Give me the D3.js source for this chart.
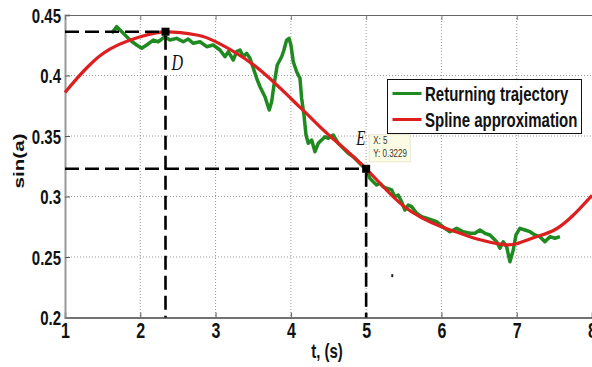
<!DOCTYPE html>
<html>
<head>
<meta charset="utf-8">
<script src="https://cdn.jsdelivr.net/npm/d3@7"></script>
<style>
  html, body { margin: 0; padding: 0; background: #fff; }
  svg { display: block; }
  text { font-family: "Liberation Sans", Arial, sans-serif; }
</style>
</head>
<body>
<svg id="chart" width="592" height="367"></svg>
<script>
// Measured trajectory (time in s, sin(a))
const trajT = [1.620,1.687,1.774,1.863,1.952,2.019,2.085,2.173,2.239,2.328,2.394,2.483,2.571,2.637,2.704,2.793,2.882,2.969,3.058,3.125,3.169,3.235,3.280,3.324,3.368,3.413,3.457,3.501,3.546,3.590,3.656,3.713,3.745,3.776,3.819,3.878,3.908,3.944,3.975,4.001,4.032,4.077,4.121,4.143,4.174,4.201,4.231,4.276,4.320,4.364,4.409,4.453,4.497,4.563,4.629,4.696,4.762,4.829,4.895,4.961,5.007,5.050,5.094,5.139,5.183,5.227,5.272,5.339,5.382,5.426,5.471,5.515,5.559,5.604,5.671,5.737,5.803,5.870,5.936,6.046,6.113,6.202,6.290,6.378,6.445,6.511,6.578,6.644,6.688,6.733,6.777,6.821,6.866,6.910,6.954,6.990,7.042,7.109,7.175,7.242,7.308,7.374,7.441,7.507,7.574];
const trajV = [0.4349,0.4404,0.4349,0.4293,0.4252,0.4225,0.4252,0.4293,0.4279,0.4321,0.4293,0.4307,0.4279,0.4302,0.4266,0.4279,0.4238,0.4252,0.4211,0.4155,0.4197,0.4128,0.4197,0.4211,0.4155,0.4183,0.4142,0.4060,0.3977,0.3907,0.3825,0.3715,0.3783,0.3921,0.4087,0.4155,0.4211,0.4293,0.4307,0.4252,0.4114,0.4031,0.3977,0.3812,0.3674,0.3508,0.3440,0.3467,0.3370,0.3440,0.3467,0.3494,0.3481,0.3508,0.3440,0.3398,0.3357,0.3329,0.3288,0.3246,0.3219,0.3150,0.3122,0.3095,0.3109,0.3081,0.3068,0.3054,0.2998,0.3012,0.2957,0.2888,0.2930,0.2916,0.2861,0.2833,0.2820,0.2806,0.2792,0.2737,0.2709,0.2737,0.2709,0.2696,0.2696,0.2723,0.2696,0.2682,0.2655,0.2626,0.2572,0.2626,0.2585,0.2461,0.2558,0.2682,0.2737,0.2723,0.2709,0.2682,0.2668,0.2626,0.2668,0.2655,0.2668];

// Spline approximation knots
const splineT = [1, 1.5, 2, 2.35, 2.75, 3, 3.5, 4, 4.25, 4.5, 5, 5.5, 6, 6.25, 6.5, 6.8, 7, 7.25, 7.5, 7.75, 8];
const splineV = [0.386, 0.418, 0.432, 0.436, 0.4335, 0.428, 0.409, 0.381, 0.366, 0.351, 0.3229, 0.292, 0.275, 0.2696, 0.2645, 0.2605, 0.261, 0.2665, 0.2723, 0.2845, 0.301];

// Highlighted points D and E
const pointNames = ["D", "E"];
const pointT = [2.335, 5];
const pointV = [0.4362, 0.3229];

// Small stray dot under the curve
const dotT = [5.347];
const dotV = [0.2346];

// Axis ticks
const xTicks = [1, 2, 3, 4, 5, 6, 7, 8];
const yTicks = [0.2, 0.25, 0.3, 0.35, 0.4, 0.45];
const yTickLabels = ["0.2", "0.25", "0.3", "0.35", "0.4", "0.45"];

const legendNames = ["Returning trajectory", "Spline approximation"];
const GREEN = "#1f8a1f", RED = "#dd1f1f";
const STRETCH = 1.38;

const svg = d3.select("#chart");
const x = d3.scaleLinear().domain([1, 8]).range([65, 592]);
const y = d3.scaleLinear().domain([0.2, 0.45]).range([317.5, 15]);

// dotted grid
const grid = svg.append("g");
grid.selectAll("line.vg").data(xTicks.slice(1, -1)).join("line")
  .attr("x1", d => x(d)).attr("x2", d => x(d))
  .attr("y1", y(0.45)).attr("y2", y(0.2))
  .attr("stroke", "#9a9a9a").attr("stroke-width", 1).attr("stroke-dasharray", "1,2");
grid.selectAll("line.hg").data(yTicks.slice(1, -1)).join("line")
  .attr("x1", x(1)).attr("x2", x(8))
  .attr("y1", d => y(d)).attr("y2", d => y(d))
  .attr("stroke", "#9a9a9a").attr("stroke-width", 1).attr("stroke-dasharray", "1,2");

// axes with inward ticks
const xAxis = svg.append("g").attr("transform", `translate(0,${y(0.2)})`)
  .call(d3.axisBottom(x).tickValues(xTicks).tickSize(-5).tickFormat(d3.format("d")));
const yAxis = svg.append("g").attr("transform", `translate(${x(1)},0)`)
  .call(d3.axisLeft(y).tickValues(yTicks).tickSize(-5).tickFormat((d, i) => yTickLabels[i]));
svg.append("g").attr("transform", `translate(0,${y(0.45)})`)
  .call(d3.axisTop(x).tickValues(xTicks).tickSize(-5).tickFormat(""))
  .call(g => g.select(".domain").attr("stroke", "#666"))
  .call(g => g.selectAll(".tick line").attr("stroke", "#777"));

xAxis.select(".domain").attr("stroke", "#444").attr("stroke-width", 1.5);
xAxis.selectAll(".tick line").attr("stroke", "#555");
xAxis.selectAll(".tick text")
  .attr("y", null).attr("dy", null)
  .attr("transform", `translate(0,20) scale(1,${STRETCH})`)
  .attr("fill", "#111").style("font-size", "16px").style("font-weight", "bold")
  .style("font-family", "'Liberation Sans', Arial, sans-serif");
yAxis.select(".domain").attr("stroke", "#999").attr("stroke-width", 2);
yAxis.selectAll(".tick line").attr("stroke", "#555");
yAxis.selectAll(".tick text")
  .attr("x", null).attr("dy", null)
  .attr("transform", `translate(-4,7) scale(1,${STRETCH})`)
  .attr("fill", "#111").style("font-size", "15px").style("font-weight", "bold")
  .style("font-family", "'Liberation Sans', Arial, sans-serif");

// axis titles
svg.append("text")
  .attr("transform", `translate(327,358) scale(1,${STRETCH})`)
  .attr("text-anchor", "middle").style("font-size", "15px").style("font-weight", "bold")
  .attr("fill", "#111").text("t, (s)");
svg.append("text")
  .attr("transform", `translate(24,161) rotate(-90) scale(${STRETCH},1)`)
  .attr("text-anchor", "middle").style("font-size", "15px").style("font-weight", "bold")
  .attr("fill", "#111").text("sin(a)");

// curves
const line = d3.line().x(d => x(d[0])).y(d => y(d[1]));
svg.append("path")
  .datum(trajT.map((t, i) => [t, trajV[i]]))
  .attr("d", line.curve(d3.curveLinear))
  .attr("fill", "none").attr("stroke", GREEN).attr("stroke-width", 3.5)
  .attr("stroke-linejoin", "round");
svg.append("path")
  .datum(splineT.map((t, i) => [t, splineV[i]]))
  .attr("d", d3.line().x(d => x(d[0])).y(d => y(d[1])).curve(d3.curveNatural))
  .attr("fill", "none").attr("stroke", RED).attr("stroke-width", 3.2);

// dashed guide lines to the highlighted points
const guides = svg.append("g").attr("stroke", "#000").attr("stroke-width", 2.6)
  .attr("stroke-dasharray", "14,6").attr("fill", "none");
pointT.forEach((t, i) => {
  guides.append("line").attr("x1", x(1)).attr("x2", x(t))
    .attr("y1", y(pointV[i])).attr("y2", y(pointV[i]));
  guides.append("line").attr("x1", x(t)).attr("x2", x(t))
    .attr("y1", y(pointV[i]) + 4).attr("y2", y(0.2));
});
svg.selectAll("rect.pt").data(pointT).join("rect")
  .attr("x", d => x(d) - 4).attr("y", (d, i) => y(pointV[i]) - 4)
  .attr("width", 8).attr("height", 8).attr("fill", "#000");

svg.selectAll("rect.dot").data(dotT).join("rect")
  .attr("x", d => x(d) - 1).attr("y", (d, i) => y(dotV[i]) - 1.5)
  .attr("width", 2).attr("height", 3).attr("fill", "#222");

// point letters
svg.append("text")
  .attr("transform", `translate(${x(pointT[0]) + 6},${y(pointV[0]) + 38}) scale(1,${STRETCH})`)
  .style("font-family", "'Liberation Serif', 'Times New Roman', serif")
  .style("font-style", "italic").style("font-size", "16px").attr("fill", "#111")
  .text(pointNames[0]);
svg.append("text")
  .attr("transform", `translate(${x(pointT[1]) - 10},${y(pointV[1]) - 24}) scale(1,${STRETCH})`)
  .style("font-family", "'Liberation Serif', 'Times New Roman', serif")
  .style("font-style", "italic").style("font-size", "15px").attr("fill", "#111")
  .text(pointNames[1]);

// data tip for E
const tip = svg.append("g").attr("transform", `translate(${x(pointT[1]) + 3},${y(pointV[1]) - 34})`);
tip.append("rect").attr("width", 41).attr("height", 27)
  .attr("fill", "#fcfbe3").attr("stroke", "#e4e2c8").attr("stroke-width", 0.8);
tip.append("text").attr("transform", `translate(4,9.5) scale(1,${STRETCH})`)
  .style("font-size", "8px").attr("fill", "#333").text("X: " + pointT[1]);
tip.append("text").attr("transform", `translate(4,22) scale(1,${STRETCH})`)
  .style("font-size", "8px").attr("fill", "#333").text("Y: " + pointV[1]);

// legend
const legend = svg.append("g").attr("transform", "translate(387.5,79.5)");
legend.append("rect").attr("width", 194).attr("height", 54)
  .attr("fill", "#fff").attr("stroke", "#111").attr("stroke-width", 1);
const items = legend.selectAll("g.item").data(legendNames).join("g")
  .attr("transform", (d, i) => `translate(0,${14 + i * 26})`);
items.append("line").attr("x1", 5).attr("x2", 34).attr("y1", 0).attr("y2", 0)
  .attr("stroke", (d, i) => i === 0 ? GREEN : RED).attr("stroke-width", 3);
items.append("text")
  .attr("transform", `translate(37.5,7) scale(1,${STRETCH})`)
  .style("font-size", "15px").style("font-weight", "bold").attr("fill", "#111")
  .text(d => d);
</script>
</body>
</html>
